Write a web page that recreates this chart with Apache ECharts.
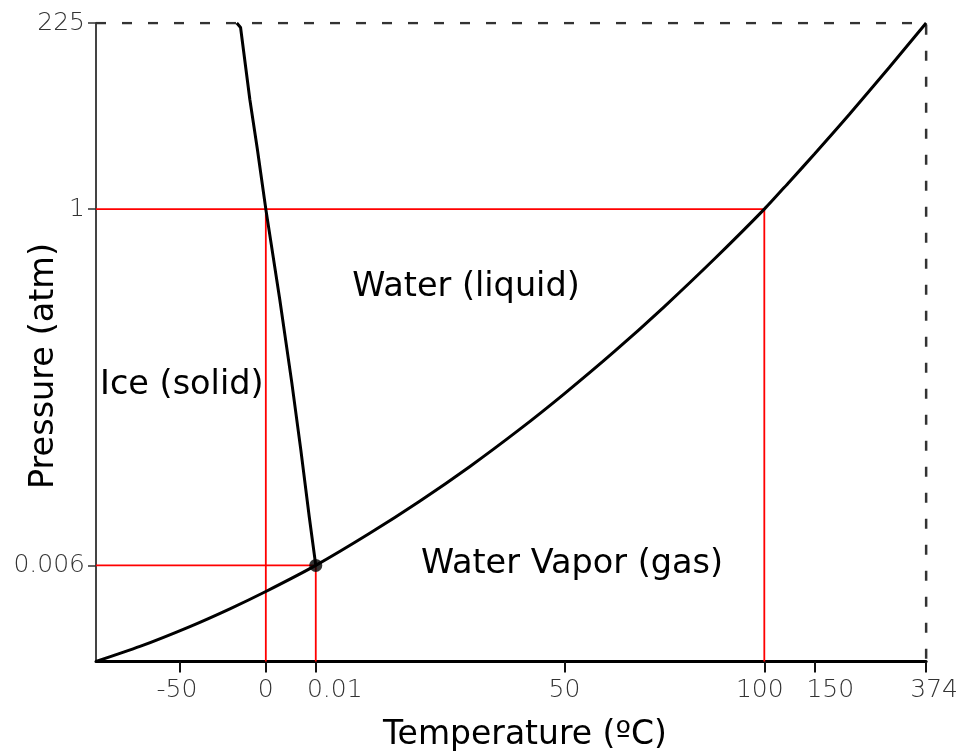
<!DOCTYPE html>
<html>
<head>
<meta charset="utf-8">
<script src="https://cdn.jsdelivr.net/npm/echarts@6/dist/echarts.min.js"></script>
<style>html,body{margin:0;padding:0;background:#fff}#c{width:961px;height:752px}</style>
</head>
<body>
<div id="c"></div>
<script>
// ---- Schematic (non-linear) axis scales: value anchors and their axis positions ----
const xScaleT   = [-100, -50, 0, 0.01, 50, 100, 150, 374];
const xScalePos = [0, 84, 170, 220, 469, 669, 719, 831];
const yScaleP   = [0, 0.006, 1, 225];
const yScalePos = [0, 96, 452, 638];

// ---- Tick labels ----
const xTickValues = [-50, 0, 0.01, 50, 100, 150, 374];
const xTickLabels = ['-50', '0', '0.01', '50', '100', '150', '374'];
const yTickValues = [0.006, 1, 225];
const yTickLabels = ['0.006', '1', '225'];

// ---- Data (°C, atm) ----
const vaporT = [-100, -73.8, -44.2, -20.9, 0, 0.01, 10.85, 20.89, 30.93, 40.97, 50, 62.5, 75, 87.5, 100, 125, 150, 220, 300, 374];
const vaporP = [0, 0.00094, 0.00218, 0.00329, 0.00437, 0.006, 0.0955, 0.185, 0.2814, 0.3854, 0.4854, 0.603, 0.7283, 0.8608, 1, 33.8, 67.0, 114.8, 171.5, 225];
const fusionT = [-16.9, -14.7, -9.3, -4.9, 0, 0.0028, 0.0052, 0.0070, 0.0087, 0.01];
const fusionP = [225, 219.6, 132.9, 72.7, 1, 0.747, 0.516, 0.329, 0.141, 0.006];
const tripleT = 0.01, tripleP = 0.006;
const boilT = 100, meltT = 0, stdP = 1;
const criticalT = 374, criticalP = 225;
const regionNames = ['Water (liquid)', 'Ice (solid)', 'Water Vapor (gas)'];
const xTitle = 'Temperature (ºC)', yTitle = 'Pressure (atm)';

function interp(v, vals, pos) {
  for (let i = 0; i < vals.length - 1; i++) {
    if (v <= vals[i + 1] || i === vals.length - 2) {
      return pos[i] + (v - vals[i]) / (vals[i + 1] - vals[i]) * (pos[i + 1] - pos[i]);
    }
  }
}
const toX = t => interp(t, xScaleT, xScalePos);
const toY = p => interp(p, yScaleP, yScalePos);
const pt = (t, p) => [toX(t), toY(p)];
const xMin = xScaleT[0], yMin = yScaleP[0];

const xTickPos = xTickValues.map(toX);
const yTickPos = yTickValues.map(toY);
function nearestIndex(v, posArr) {
  let best = 0;
  posArr.forEach((p, i) => { if (Math.abs(p - v) < Math.abs(posArr[best] - v)) best = i; });
  return best;
}
// small per-label nudges (style only)
const xLabelStyle = ['m3', 'n', 'p38', 'n', 'm8', 'p32', 'p16'];

const FONT = 'DejaVu Sans';
const tickFont = { fontFamily: FONT, fontSize: 25, fontWeight: 200, color: '#333' };
const red = { color: '#ff0000', width: 1.8 };
const redSeries = (data) => ({ type: 'line', data, symbol: 'none', lineStyle: red, z: 1, silent: true });

const chart = echarts.init(document.getElementById('c'), null, { renderer: 'canvas' });
chart.setOption({
  animation: false,
  backgroundColor: '#fff',
  grid: { left: 96, top: 23, right: 34, bottom: 90.5, containLabel: false },
  xAxis: {
    type: 'value', min: 0, max: xScalePos[xScalePos.length - 1],
    splitLine: { show: false },
    axisLine: { lineStyle: { color: '#000', width: 3 } },
    axisTick: { customValues: xTickPos, length: 11, lineStyle: { color: '#111', width: 2 } },
    axisLabel: Object.assign({
      customValues: xTickPos, margin: 16,
      formatter: v => { const i = nearestIndex(v, xTickPos); return '{' + xLabelStyle[i] + '|' + xTickLabels[i] + '}'; },
      rich: {
        n: Object.assign({}, tickFont),
        m3: Object.assign({ padding: [0, 6, 0, 0] }, tickFont),
        m8: Object.assign({ padding: [0, 9, 0, 0] }, tickFont),
        p38: Object.assign({ padding: [0, 0, 0, 38] }, tickFont),
        p32: Object.assign({ padding: [0, 0, 0, 32] }, tickFont),
        p16: Object.assign({ padding: [0, 0, 0, 16] }, tickFont)
      }
    }, tickFont)
  },
  yAxis: {
    type: 'value', min: 0, max: yScalePos[yScalePos.length - 1],
    splitLine: { show: false },
    axisLine: { lineStyle: { color: '#444', width: 2 } },
    axisTick: { customValues: yTickPos, length: 8, lineStyle: { color: '#333', width: 1.5 } },
    axisLabel: Object.assign({
      customValues: yTickPos, margin: 11,
      formatter: v => yTickLabels[nearestIndex(v, yTickPos)]
    }, tickFont)
  },
  series: [
    redSeries([pt(xMin, stdP), pt(boilT, stdP)]),
    redSeries([pt(meltT, stdP), pt(meltT, yMin)]),
    redSeries([pt(boilT, stdP), pt(boilT, yMin)]),
    redSeries([pt(xMin, tripleP), pt(tripleT, tripleP)]),
    redSeries([pt(tripleT, tripleP), pt(tripleT, yMin)]),
    {
      type: 'line', symbol: 'none', z: 1, silent: true,
      data: [pt(xMin, criticalP), pt(criticalT, criticalP), pt(criticalT, yMin)],
      lineStyle: { color: '#333', width: 2.5, type: [10, 16] }
    },
    {
      type: 'line', symbol: 'none', z: 3, silent: true, smooth: 0.25,
      data: vaporT.map((t, i) => pt(t, vaporP[i])),
      lineStyle: { color: '#000', width: 3 }
    },
    {
      type: 'line', symbol: 'none', z: 3, silent: true,
      data: fusionT.map((t, i) => pt(t, fusionP[i])),
      lineStyle: { color: '#000', width: 3 }
    },
    {
      type: 'scatter', z: 4, symbolSize: 13, silent: true,
      data: [pt(tripleT, tripleP)], itemStyle: { color: '#000' }
    }
  ],
  graphic: [
    { type: 'text', x: 466, y: 287, style: { text: regionNames[0], font: '33.5px "DejaVu Sans"', fill: '#000', align: 'center', verticalAlign: 'middle' } },
    { type: 'text', x: 100, y: 385, style: { text: regionNames[1], font: '33.5px "DejaVu Sans"', fill: '#000', align: 'left', verticalAlign: 'middle' } },
    { type: 'text', x: 572, y: 564, style: { text: regionNames[2], font: '33.5px "DejaVu Sans"', fill: '#000', align: 'center', verticalAlign: 'middle' } },
    { type: 'text', x: 525, y: 735, style: { text: xTitle, font: '33px "DejaVu Sans"', fill: '#000', align: 'center', verticalAlign: 'middle' } },
    { type: 'text', x: 44, y: 366, rotation: Math.PI / 2, style: { text: yTitle, font: '33.5px "DejaVu Sans"', fill: '#000', align: 'center', verticalAlign: 'middle' } }
  ]
});
</script>
</body>
</html>
